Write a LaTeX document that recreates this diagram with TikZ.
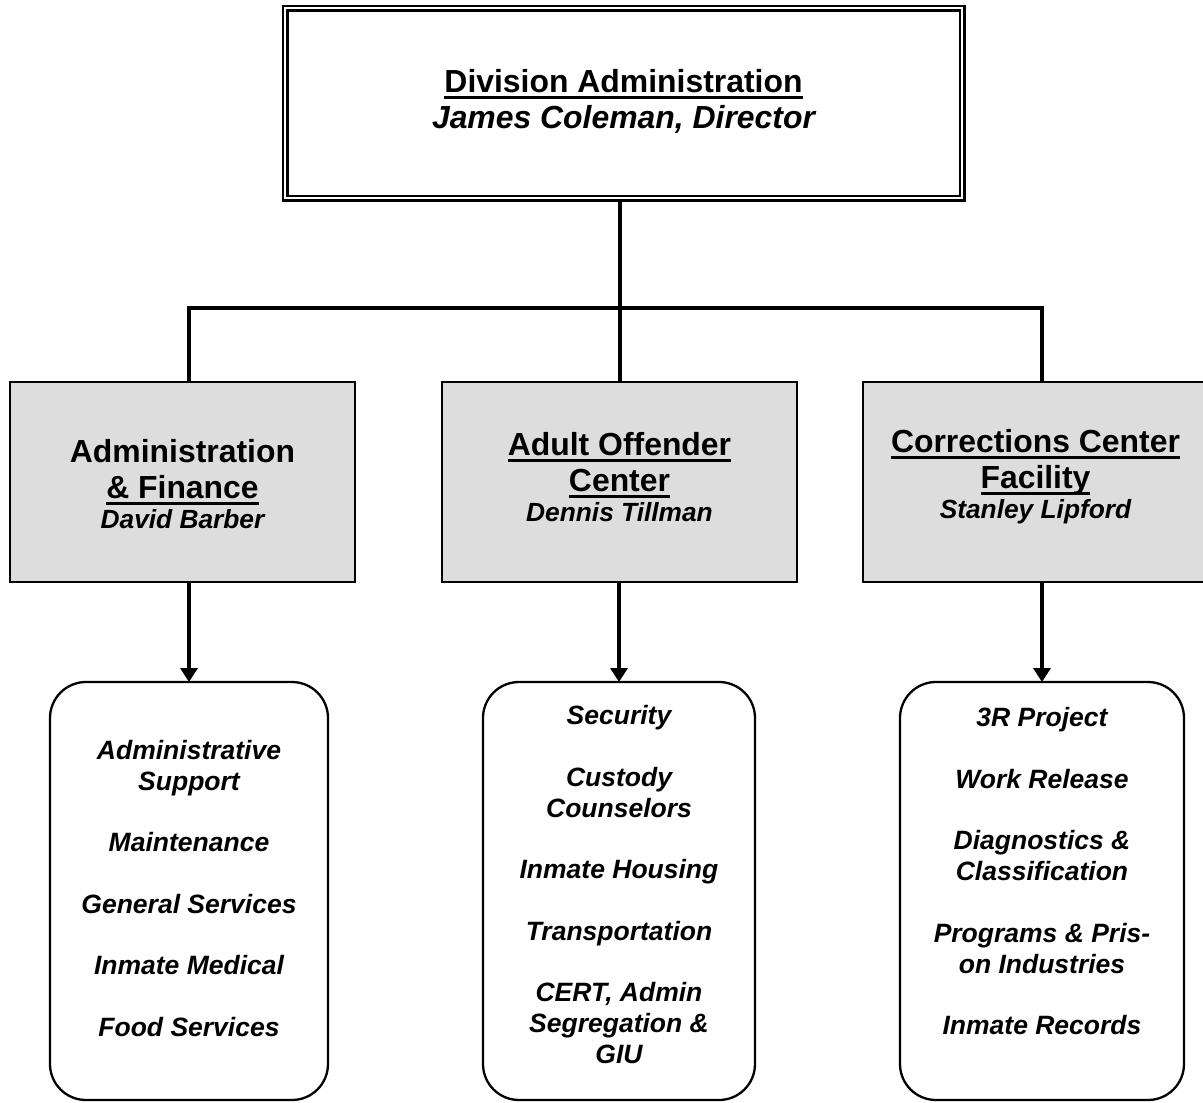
\documentclass[tikz,border=0pt]{standalone}
\usepackage{fontspec}
\setmainfont{Liberation Sans}
\usetikzlibrary{arrows.meta,positioning}
\definecolor{boxgray}{HTML}{DDDDDD}
\newcommand\uln[1]{\setbox0\hbox{#1}\rlap{\vrule height -3.3pt depth 7pt width \wd0}\box0}
\newcommand\persfont{\fontsize{26.3}{30}\selectfont\itshape}
\begin{document}
\begin{tikzpicture}[x=1pt,y=-1pt,
  headbox/.style={draw,line width=2.7pt,fill=boxgray,minimum width=345pt,minimum height=200pt,inner sep=0pt,outer sep=0pt},
  listbox/.style={draw,line width=2.3pt,rounded corners=36pt,minimum height=418pt,inner sep=0pt,outer sep=0pt},
  headtext/.style={align=center,inner sep=0pt,font=\fontsize{31.9}{36}\selectfont\bfseries},
  listtext/.style={align=center,inner sep=0pt,font=\fontsize{26.5}{30.8}\selectfont\bfseries\itshape},
  conn/.style={line width=3.3pt}]
\useasboundingbox (0,0) rectangle (1203,1103);

\node[draw,double,line width=2.3pt,double distance=2.4pt,minimum width=677pt,minimum height=190pt,inner sep=0pt,outer sep=3.5pt] (divbox) at (623.5,103) {};
\node[headtext,below=64.6pt of divbox.north] (divtext) {\uln{Division Administration}\\{\itshape James Coleman, Director}};

\node[headbox] (afbox) at (182.5,482) {};
\node[headbox,minimum width=355pt] (aobox) at (619.5,482) {};
\node[headbox] (ccbox) at (1035.5,482) {};
\node[headtext,below=57.1pt of afbox.north] (aftext) {Administration\\\uln{\& Finance}\\[-6pt]{\persfont David Barber}};
\node[headtext,below=50.1pt of aobox.north] (aotext) {\uln{Adult Offender}\\\uln{Center}\\[-6pt]{\persfont Dennis Tillman}};
\node[headtext,below=47.1pt of ccbox.north] (cctext) {\uln{Corrections Center}\\\uln{Facility}\\[-6pt]{\persfont Stanley Lipford}};

\node[listbox,minimum width=278pt] (aflist) at (189,891) {};
\node[listbox,minimum width=272pt] (aolist) at (619,891) {};
\node[listbox,minimum width=284pt] (cclist) at (1042,891) {};
\node[listtext,below=57.9pt of aflist.north] (afitems) {Administrative\\Support\\[30.8pt]Maintenance\\[30.8pt]General Services\\[30.8pt]Inmate Medical\\[30.8pt]Food Services};
\node[listtext,below=23.3pt of aolist.north] (aoitems) {Security\\[30.8pt]Custody\\Counselors\\[30.8pt]Inmate Housing\\[30.8pt]Transportation\\[30.8pt]CERT, Admin\\Segregation \&\\GIU};
\node[listtext,below=25.3pt of cclist.north] (ccitems) {3R Project\\[30.8pt]Work Release\\[30.8pt]Diagnostics \&\\Classification\\[30.8pt]Programs \& Pris-\\on Industries\\[30.8pt]Inmate Records};

\coordinate (hub) at (620,308);
\draw[conn] (aflist.north |- afbox.north) |- (hub) -| (cclist.north |- ccbox.north);
\draw[conn] (hub |- divbox.south) -- (hub |- aobox.north);
\draw[conn,-{Triangle[length=14pt,width=17pt]}] (aflist.north |- afbox.south) -- (aflist.north);
\draw[conn,-{Triangle[length=14pt,width=17pt]}] (aolist.north |- aobox.south) -- (aolist.north);
\draw[conn,-{Triangle[length=14pt,width=17pt]}] (cclist.north |- ccbox.south) -- (cclist.north);
\end{tikzpicture}
\end{document}
